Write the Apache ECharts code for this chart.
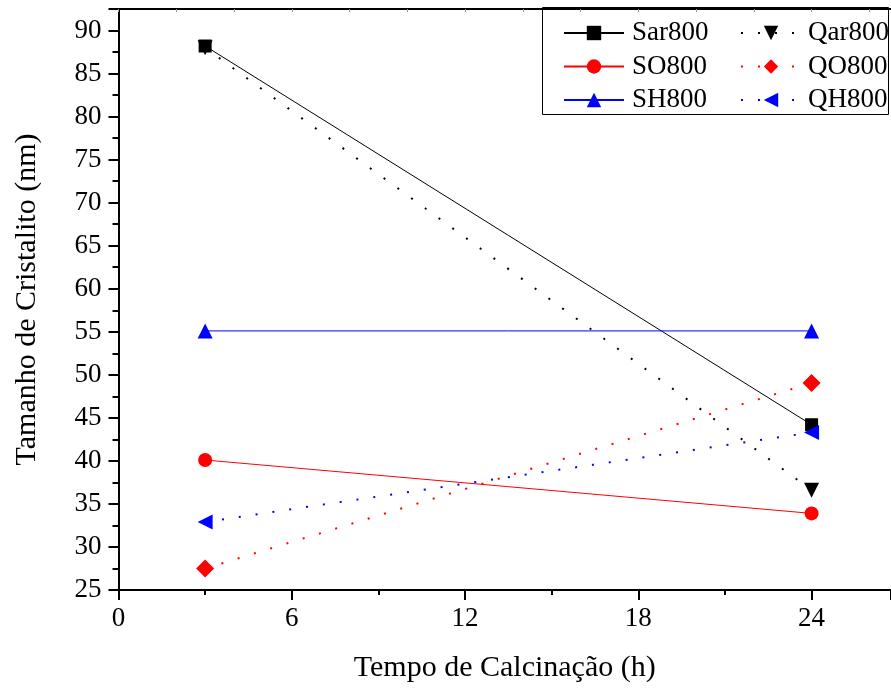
<!DOCTYPE html>
<html><head><meta charset="utf-8">
<script src="https://cdn.jsdelivr.net/npm/echarts@6/dist/echarts.min.js"></script>
<style>html,body{margin:0;padding:0;background:#fff}#c{width:891px;height:688px}</style>
</head><body><div id="c"></div>
<script>
const hours = [3, 24];
const sar800 = [88.2, 44.2];
const so800 = [40.1, 33.9];
const sh800 = [55.1, 55.1];
const qar800 = [88.0, 36.6];
const qo800 = [27.5, 49.05];
const qh800 = [32.9, 43.3];
const xTicks = [0, 6, 12, 18, 24];
const yTicks = [25, 30, 35, 40, 45, 50, 55, 60, 65, 70, 75, 80, 85, 90];

const FONT = 'Liberation Serif';
const pts = a => hours.map((h, i) => [h, a[i]]);
const dotted = [2, 15];
function mk(name, data, color, symbol, size, dashed, rot) {
  return {
    name, type: 'line', data: pts(data), symbol, symbolSize: size, symbolRotate: rot || 0,
    itemStyle: { color }, lineStyle: { color, width: dashed ? 2 : 1, type: dashed ? dotted : 'solid' },
    emphasis: { disabled: true }, animation: false, z: dashed ? 3 : 2
  };
}
const chart = echarts.init(document.getElementById('c'), null, { renderer: 'canvas' });
chart.setOption({
  backgroundColor: '#fff',
  animation: false,
  grid: { left: 118.5, right: 0, top: 9, bottom: 98 },
  xAxis: [{
    type: 'value', min: 0, max: 26.75, interval: 6,
    name: 'Tempo de Calcinação (h)', nameLocation: 'middle', nameGap: 63,
    nameTextStyle: { fontFamily: FONT, fontSize: 30, color: '#000' },
    axisLine: { show: true, onZero: false, lineStyle: { color: '#000', width: 2 } },
    axisTick: { show: true, inside: false, length: 10, lineStyle: { color: '#000', width: 2 } },
    minorTick: { show: true, splitNumber: 2, length: 5, lineStyle: { color: '#000', width: 2 } },
    axisLabel: { fontFamily: FONT, fontSize: 27, color: '#000', margin: 15, showMaxLabel: false,
      formatter: v => xTicks.includes(v) ? String(v) : '' },
    splitLine: { show: false }
  }, {
    type: 'value', position: 'top', min: 0, max: 26.75, interval: 2,
    axisLine: { show: true, onZero: false, lineStyle: { color: '#000', width: 2 } },
    axisTick: { show: true, inside: true, length: 3, lineStyle: { color: '#999', width: 1 } },
    axisLabel: { show: false }, splitLine: { show: false }
  }],
  yAxis: {
    type: 'value', min: 25, max: 92.5, interval: 5,
    name: 'Tamanho de Cristalito (nm)', nameLocation: 'middle', nameGap: 76,
    nameTextStyle: { fontFamily: FONT, fontSize: 30, color: '#000' },
    axisLine: { show: true, onZero: false, lineStyle: { color: '#000', width: 2 } },
    axisTick: { show: true, inside: false, length: 10, lineStyle: { color: '#000', width: 2 } },
    minorTick: { show: true, splitNumber: 2, length: 6, lineStyle: { color: '#000', width: 2 } },
    axisLabel: { fontFamily: FONT, fontSize: 27, color: '#000', margin: 17, showMaxLabel: false,
      formatter: v => yTicks.includes(v) ? String(v) : '' },
    splitLine: { show: false }
  },
  legend: [{
    orient: 'vertical', left: 563, top: 18, padding: 0, itemWidth: 60, itemHeight: 18, itemGap: 3.5,
    data: ['Sar800', 'SO800', 'SH800'],
    textStyle: { fontFamily: FONT, fontSize: 27, color: '#000', lineHeight: 30, padding: [0, 0, 0, 3] }
  }, {
    orient: 'vertical', left: 740, top: 18, padding: 0, itemWidth: 60, itemHeight: 18, itemGap: 3.5,
    data: ['Qar800', 'QO800', 'QH800'],
    textStyle: { fontFamily: FONT, fontSize: 27, color: '#000', lineHeight: 30, padding: [0, 0, 0, 2] }
  }],
  graphic: [{
    type: 'rect', shape: { x: 542.5, y: 7.5, width: 346, height: 107 },
    style: { fill: 'none', stroke: '#000', lineWidth: 1 }, z: 0, silent: true
  }],
  series: [
    mk('Sar800', sar800, '#000000', 'rect', 13, false),
    mk('SO800', so800, '#ff0000', 'circle', 14, false),
    mk('SH800', sh800, '#0000ff', 'triangle', 15, false),
    mk('Qar800', qar800, '#000000', 'triangle', 15, true, 180),
    mk('QO800', qo800, '#ff0000', 'diamond', 18, true),
    mk('QH800', qh800, '#0000ff', 'triangle', 15, true, 90)
  ]
});
</script></body></html>
